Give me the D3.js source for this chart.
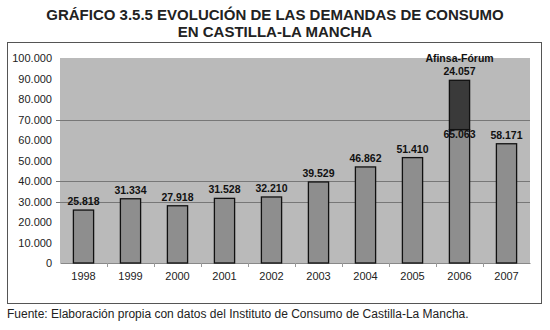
<!DOCTYPE html>
<html>
<head>
<meta charset="utf-8">
<script src="https://cdn.jsdelivr.net/npm/d3@7"></script>
<style>
  body { margin: 0; background: #fff; }
  svg text { font-family: "Liberation Sans", Arial, sans-serif; }
</style>
</head>
<body>
<svg id="chart"></svg>
<script>
// data
var years = ["1998", "1999", "2000", "2001", "2002", "2003", "2004", "2005", "2006", "2007"];
var demandas = [25818, 31334, 27918, 31528, 32210, 39529, 46862, 51410, 65063, 58171];
var afinsa = [0, 0, 0, 0, 0, 0, 0, 0, 24057, 0];
var yTicks = [0, 10000, 20000, 30000, 40000, 50000, 60000, 70000, 80000, 90000, 100000];
var gridValues = [30000, 40000, 70000];

var W = 550, H = 330;
var svg = d3.select("#chart").attr("width", W).attr("height", H);

var fmt = function(v) { return d3.format(",")(v).replace(/,/g, "."); };

// title
svg.append("text")
  .attr("x", 275).attr("y", 20)
  .attr("text-anchor", "middle")
  .style("font-size", "15px").style("font-weight", "bold").style("fill", "#222")
  .text("GRÁFICO 3.5.5 EVOLUCIÓN DE LAS DEMANDAS DE CONSUMO");
svg.append("text")
  .attr("x", 275).attr("y", 37)
  .attr("text-anchor", "middle")
  .style("font-size", "15px").style("font-weight", "bold").style("fill", "#222")
  .text("EN CASTILLA-LA MANCHA");

// outer frame
svg.append("rect")
  .attr("x", 7.5).attr("y", 42.5).attr("width", 534).attr("height", 261)
  .attr("fill", "#fff").attr("stroke", "#555").attr("stroke-width", 1);

var plot = {left: 60, right: 530, top: 58, bottom: 263};

var x = d3.scaleBand()
  .domain(years)
  .range([plot.left, plot.right])
  .paddingInner(0.57).paddingOuter(0.285);

var xCat = d3.scaleBand().domain(years).range([plot.left, plot.right]);

var y = d3.scaleLinear().domain([0, 100000]).range([plot.bottom, plot.top]);

// plot background
svg.append("rect")
  .attr("x", plot.left).attr("y", plot.top)
  .attr("width", plot.right - plot.left).attr("height", plot.bottom - plot.top)
  .attr("fill", "#bababa");

// gridlines
svg.append("g").selectAll("line")
  .data(gridValues).enter().append("line")
  .attr("x1", plot.left - 4).attr("x2", plot.right)
  .attr("y1", function(d) { return Math.round(y(d)) + 0.5; })
  .attr("y2", function(d) { return Math.round(y(d)) + 0.5; })
  .attr("stroke", "#777").attr("stroke-width", 1);

// y axis
var yAxis = svg.append("g")
  .attr("transform", "translate(" + plot.left + ",0)")
  .call(d3.axisLeft(y).tickValues(yTicks).tickFormat(fmt).tickSize(0).tickPadding(8));
yAxis.select(".domain").remove();
yAxis.selectAll("text").style("font-size", "11px").style("fill", "#222")
  .style("font-family", "'Liberation Sans', Arial, sans-serif");

// x axis
var xAxis = svg.append("g")
  .attr("transform", "translate(0," + plot.bottom + ")")
  .call(d3.axisBottom(xCat).tickSize(0).tickPadding(9));
xAxis.select(".domain").attr("stroke", "#888");
xAxis.selectAll("text").style("font-size", "11px").style("fill", "#222")
  .style("font-family", "'Liberation Sans', Arial, sans-serif");
svg.append("g").selectAll("line")
  .data(years.slice(1)).enter().append("line")
  .attr("x1", function(d) { return xCat(d) + 0.5; })
  .attr("x2", function(d) { return xCat(d) + 0.5; })
  .attr("y1", plot.bottom).attr("y2", plot.bottom + 4)
  .attr("stroke", "#999");

// bars
svg.append("g").selectAll("rect")
  .data(years).enter().append("rect")
  .attr("x", function(d) { return x(d); })
  .attr("width", x.bandwidth())
  .attr("y", function(d, i) { return y(demandas[i]); })
  .attr("height", function(d, i) { return y(0) - y(demandas[i]); })
  .attr("fill", "#8e8e8e").attr("stroke", "#111").attr("stroke-width", 1.3);

svg.append("g").selectAll("rect")
  .data(years.filter(function(d, i) { return afinsa[i] > 0; })).enter().append("rect")
  .attr("x", function(d) { return x(d); })
  .attr("width", x.bandwidth())
  .attr("y", function(d) { var i = years.indexOf(d); return y(demandas[i] + afinsa[i]); })
  .attr("height", function(d) { var i = years.indexOf(d); return y(0) - y(afinsa[i]); })
  .attr("fill", "#3a3a3a").attr("stroke", "#111").attr("stroke-width", 1.3);

// value labels
svg.append("g").selectAll("text")
  .data(years).enter().append("text")
  .attr("x", function(d) { return x(d) + x.bandwidth() / 2; })
  .attr("y", function(d, i) { return afinsa[i] > 0 ? y(demandas[i]) + 8 : y(demandas[i]) - 5; })
  .attr("text-anchor", "middle")
  .style("font-size", "10.5px").style("font-weight", "bold").style("fill", "#111")
  .text(function(d, i) { return fmt(demandas[i]); });

years.forEach(function(d, i) {
  if (afinsa[i] > 0) {
    var top = y(demandas[i] + afinsa[i]);
    svg.append("text")
      .attr("x", x(d) + x.bandwidth() / 2).attr("y", top - 5)
      .attr("text-anchor", "middle")
      .style("font-size", "10.5px").style("font-weight", "bold").style("fill", "#111")
      .text(fmt(afinsa[i]));
    svg.append("text")
      .attr("x", x(d) + x.bandwidth() / 2).attr("y", top - 18)
      .attr("text-anchor", "middle")
      .style("font-size", "10.5px").style("font-weight", "bold").style("fill", "#111")
      .text("Afinsa-Fórum");
  }
});

// source
svg.append("text")
  .attr("x", 7).attr("y", 318)
  .style("font-size", "12px").style("fill", "#222")
  .text("Fuente: Elaboración propia con datos del Instituto de Consumo de Castilla-La Mancha.");
</script>
</body>
</html>
